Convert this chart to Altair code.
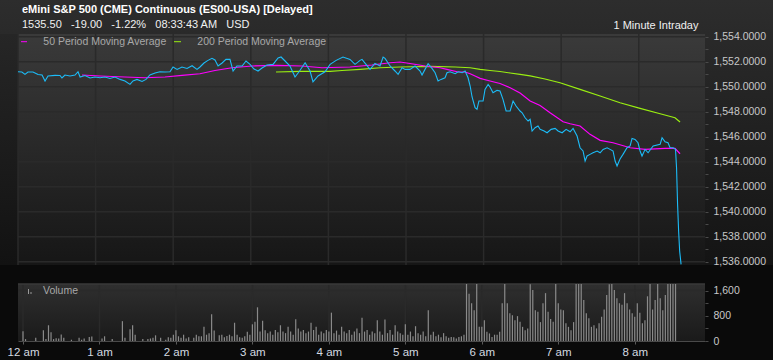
import altair as alt
import pandas as pd

FONT = "Liberation Sans"

TITLE = "eMini S&P 500 (CME) Continuous (ES00-USA) [Delayed]"
QUOTE = ["1535.50", "-19.00", "-1.22%", "08:33:43 AM", "USD"]
PERIOD = "1 Minute Intraday"
LEGEND_50 = "50 Period Moving Average"
LEGEND_200 = "200 Period Moving Average"

HOUR_TICKS = [0, 60, 120, 180, 240, 300, 360, 420, 480]
HOUR_LABELS = ["12 am", "1 am", "2 am", "3 am", "4 am", "5 am", "6 am", "7 am", "8 am"]
PRICE_TICKS = [1536, 1538, 1540, 1542, 1544, 1546, 1548, 1550, 1552, 1554]
VOL_TICKS = [0, 800, 1600]

# price (minutes after midnight, last trade)
PRICE_MIN = [0, 3, 5.4, 7.7, 11.6, 15.5, 18.6, 20.9, 23.2, 28.6, 32.5, 34, 36.3, 40.2, 44.1, 46.4, 48, 51.8, 55.7, 59.5,
             63.4, 67.3, 71.1, 75, 78.9, 82.7, 86.6, 88.9, 92, 95.9, 99, 102, 106, 109.8, 113.7, 117.5, 119.9,
             123, 126.8, 130.7, 134.6, 138.4, 140.7, 143.8, 146.9, 150, 152.3, 154.7, 157.8, 160.8, 163.9, 166.3, 169.3, 173.3, 176.3, 179.4,
             182.5, 185.6, 188.7, 192.5, 197.2, 201.1, 203.4, 206.5, 210.3, 212.7, 214.2, 217.3, 222, 225.8, 228.1, 232, 237.4, 241.3,
             246, 251.3, 256.7, 260.6, 264.5, 266, 269.1, 272.2, 276, 279.9, 282.3, 283.8, 287.7, 291.5, 293.9, 297, 299.3,
             303.1, 307, 310.9, 312.4, 314.7, 317.1, 320.1, 322.5, 324.8, 327.1, 330.2, 331.7, 334.1, 338, 340.3, 343.4, 345.7, 348,
             349.6, 351.1, 353.4, 354.9, 356.4, 359.6, 361.1, 363.5, 365, 367.3, 370.4, 372.7, 375, 377.4, 380.5, 382.8, 385.1, 388.2,
             389.8, 392.1, 394.4, 396, 397.5, 399.8, 402.1, 403.7, 406.8, 409.1, 412.2, 415.3, 417.6, 420.7, 423.8, 426.9, 429.2,
             432.3, 434.6, 436.9, 438.5, 440, 442.3, 444.6, 447.8, 450.1, 452.4, 455.5, 457.8, 460.1, 461.7, 463.2, 465.5, 467.8,
             470.9, 473.3, 474.8, 477.1, 479.4, 481, 482.5, 484.9, 487.2, 491.1, 496.5, 498, 500.3, 502.6, 504.2, 506.5, 508.4,
             509.2, 510, 510.8, 511.6, 512.7]
PRICE_VAL = [1551.20, 1551.18, 1550.99, 1551.18, 1551.18, 1550.98, 1550.94, 1550.46, 1550.86, 1550.91, 1550.90, 1550.70, 1550.94, 1550.86, 1550.94, 1551.20, 1550.78, 1550.90, 1550.70, 1550.78,
             1550.72, 1550.78, 1550.66, 1550.78, 1550.59, 1550.46, 1550.19, 1550.46, 1550.59, 1550.42, 1550.59, 1550.94, 1551.10, 1551.20, 1551.18, 1551.20, 1551.58,
             1551.39, 1551.58, 1551.46, 1551.68, 1551.39, 1551.58, 1551.90, 1552.11, 1552.27, 1552.14, 1551.66, 1551.90, 1552.19, 1552.19, 1551.26, 1551.66, 1551.66, 1552.06, 1551.79,
             1551.42, 1551.26, 1551.50, 1551.74, 1551.79, 1552.30, 1552.38, 1552.06, 1551.66, 1551.12, 1550.78, 1551.20, 1551.92, 1551.26, 1550.40, 1550.86, 1551.20, 1551.79,
             1552.11, 1552.38, 1552.19, 1551.79, 1552.11, 1552.19, 1551.79, 1551.39, 1551.87, 1551.66, 1552.38, 1552.27, 1551.66, 1551.26, 1550.99, 1551.52, 1551.39,
             1551.39, 1551.66, 1551.26, 1550.94, 1551.39, 1551.84, 1551.47, 1551.12, 1550.46, 1550.59, 1550.72, 1551.12, 1551.20, 1551.04, 1551.20, 1551.12, 1551.26, 1550.72,
             1550.06, 1549.18, 1548.32, 1548.19, 1548.86, 1548.86, 1549.79, 1550.19, 1549.98, 1549.52, 1549.71, 1549.66, 1548.99, 1548.06, 1548.06, 1548.86, 1548.46, 1548.06,
             1547.92, 1547.52, 1547.26, 1547.39, 1546.46, 1546.72, 1546.86, 1546.59, 1546.46, 1546.32, 1546.59, 1546.67, 1546.46, 1546.32, 1546.59, 1546.40, 1546.67,
             1546.06, 1545.12, 1544.86, 1544.06, 1544.46, 1544.59, 1544.72, 1544.86, 1544.72, 1544.99, 1545.12, 1544.99, 1544.86, 1544.06, 1543.66, 1544.22, 1544.59,
             1545.12, 1545.26, 1545.87, 1545.79, 1545.52, 1544.86, 1544.46, 1544.99, 1544.72, 1545.26, 1545.39, 1545.92, 1545.60, 1545.52, 1545.12, 1545.12, 1544.99,
             1543.52, 1540.59, 1538.46, 1536.86, 1535.79]

MA50_MIN = [49.5, 63.4, 82.7, 98.2, 113.7, 126.8, 140.7, 152.3, 165.5, 181, 200.3, 219.6, 235.1, 256.7, 273.7, 287.7, 295.4,
            303.1, 314.7, 326.3, 331.7, 339.5, 345.7, 349.6, 353.4, 357.3, 365, 372.7, 380.5, 388.2, 396, 403.7, 411.4,
            421.5, 426.9, 434.6, 442.3, 450.1, 460.1, 473.3, 484.9, 500.3, 508, 511.9]
MA50_VAL = [1550.94, 1550.86, 1550.78, 1550.72, 1550.78, 1550.91, 1551.04, 1551.30, 1551.52, 1551.66, 1551.71, 1551.66, 1551.52, 1551.58, 1551.74, 1551.92, 1551.98,
            1551.86, 1551.66, 1551.52, 1551.39, 1551.20, 1551.18, 1551.04, 1550.86, 1550.67, 1550.46, 1550.26, 1549.92, 1549.50, 1548.86, 1548.50, 1547.92,
            1547.20, 1547.04, 1546.86, 1546.19, 1545.71, 1545.52, 1545.12, 1544.99, 1545.07, 1545.07, 1544.64]

MA200_MIN = [199.5, 218, 241.3, 250.6, 264.5, 279.9, 295.4, 318.6, 338, 349.6, 357.3, 365, 372.7, 380.5, 388.2, 396,
             407.5, 419.1, 434.6, 450.1, 465.5, 481, 496.5, 508, 511.9]
MA200_VAL = [1551.18, 1551.23, 1551.23, 1551.30, 1551.39, 1551.52, 1551.58, 1551.63, 1551.58, 1551.52, 1551.39, 1551.30, 1551.22, 1551.10, 1550.99, 1550.87,
             1550.62, 1550.32, 1549.79, 1549.26, 1548.72, 1548.27, 1547.84, 1547.52, 1547.18]

# volume per 2-minute interval starting at midnight
VOLUME = [
    310, 60, 0, 0, 0, 100, 0, 0, 340, 60, 500, 280, 60, 90, 80, 210, 100, 0, 0, 40, 0, 0, 100, 40, 80, 0, 130, 140, 0, 0,
    0, 80, 150, 0, 0, 60, 0, 0, 0, 630, 100, 0, 370, 500, 200, 0, 0, 60, 0, 60, 80, 100, 180, 0, 100, 0, 40, 120, 100, 200,
    340, 150, 100, 200, 80, 120, 0, 100, 200, 150, 150, 450, 200, 250, 850, 330, 0, 180, 200, 120, 160, 200, 150, 580, 200, 120, 100, 150, 290, 200,
    530, 610, 1070, 300, 640, 340, 250, 300, 200, 350, 280, 500, 300, 250, 450, 300, 200, 690, 400, 300, 350, 250, 300, 580, 350, 450, 200, 300, 250, 350,
    300, 900, 250, 330, 200, 450, 300, 250, 350, 200, 300, 400, 250, 740, 300, 350, 200, 300, 250, 660, 300, 200, 680, 250, 350, 200, 500, 300, 250, 200,
    530, 200, 300, 150, 470, 250, 200, 300, 150, 980, 200, 290, 150, 200, 120, 250, 150, 100, 130, 120, 80, 130, 150, 200, 1900, 1500, 1200, 980, 1900, 450,
    450, 660, 290, 240, 130, 200, 200, 290, 1200, 1900, 1200, 880, 820, 660, 790, 610, 450, 340, 400, 1800, 1620, 980, 930, 600, 1200, 1520, 930, 700, 610, 1900,
    1200, 1000, 980, 560, 450, 340, 600, 1900, 1900, 1900, 1300, 880, 720, 450, 500, 400, 560, 770, 1000, 1460, 1800, 1900, 1620, 1360, 1200, 1150, 1520, 1200, 1000, 880,
    770, 1200, 900, 560, 660, 1420, 1900, 1000, 1300, 1900, 1360, 980, 1460, 1900, 1900, 1900, 1900,
]
VOL_MIN = [i * 2 for i in range(len(VOLUME))]

W, H1, H2 = 687, 231, 57
X_DOMAIN = [0, 531.2]
P_DOMAIN = [1535.74, 1554.22]
V_DOMAIN = [0, 1810]

price_df = pd.DataFrame({"m": PRICE_MIN, "p": PRICE_VAL})
ma50_df = pd.DataFrame({"m": MA50_MIN, "p": MA50_VAL})
ma200_df = pd.DataFrame({"m": MA200_MIN, "p": MA200_VAL})
vol_df = pd.DataFrame({"m": VOL_MIN, "v": VOLUME})
hours_df = pd.DataFrame({"m": HOUR_TICKS})
pgrid_df = pd.DataFrame({"p": PRICE_TICKS})
ONE = pd.DataFrame({"k": [0]})

xs = alt.Scale(domain=X_DOMAIN, nice=False, zero=False)
ps = alt.Scale(domain=P_DOMAIN, nice=False, zero=False)
vs = alt.Scale(domain=V_DOMAIN, nice=False)

label_arr = "[" + ",".join("'%s'" % s for s in HOUR_LABELS) + "]"

def grad(top, bottom):
    return {"gradient": "linear", "x1": 0, "y1": 0, "x2": 0, "y2": 1,
            "stops": [{"offset": 0, "color": top}, {"offset": 1, "color": bottom}]}

def rect(x, x2, y, y2, color):
    return alt.Chart(ONE).mark_rect(color=color).encode(
        x=alt.value(x), x2=alt.value(x2), y=alt.value(y), y2=alt.value(y2))

def hline(x, x2, y, color, w=1):
    return alt.Chart(ONE).mark_rule(color=color, strokeWidth=w).encode(
        x=alt.value(x), x2=alt.value(x2), y=alt.value(y))

def label(txt, x, y, size=11, color="#d0d0d0", weight="normal", align="left"):
    return alt.Chart(ONE).mark_text(text=txt, font=FONT, fontSize=size, color=color, fontWeight=weight,
                                    align=align, baseline="middle").encode(x=alt.value(x), y=alt.value(y))

p_axis = alt.Axis(orient="right", values=list(range(1536, 1555)),
                  labelExpr="datum.value % 2 == 0 ? format(datum.value, ',.4f') : ''",
                  grid=False, domain=False, ticks=True, tickSize=3, tickColor="#4a4a4a",
                  labelColor="#c8c8c8", labelFont=FONT, labelFontSize=10.5, labelPadding=5,
                  title=None, zindex=1)

NB = "\u00a0\u00a0\u00a0"

price = alt.layer(
    rect(-18, 755, -34, 326, "#0a0a0a"),
    rect(-18, 755, -34, 231, grad("#2d2d2d", "#141414")),
    rect(-18, 0, 0, 231, grad("#262626", "#121212")),
    rect(0, W, 0, H1, grad("#3a3a3a", "#161616")),
    alt.Chart(hours_df).mark_rule(color="#2a2a2a", strokeWidth=1.5).encode(
        x=alt.X("m:Q", scale=xs, axis=None)),
    alt.Chart(pgrid_df).mark_rule(color="#2a2a2a", strokeWidth=1.5).encode(
        y=alt.Y("p:Q", scale=ps, axis=p_axis)),
    alt.Chart(ma200_df).mark_line(color="#99ee11", strokeWidth=1.2, clip=True).encode(
        x=alt.X("m:Q", scale=xs, axis=None), y=alt.Y("p:Q", scale=ps, axis=p_axis)),
    alt.Chart(ma50_df).mark_line(color="#ff00ff", strokeWidth=1.2, clip=True).encode(
        x=alt.X("m:Q", scale=xs, axis=None), y=alt.Y("p:Q", scale=ps, axis=p_axis)),
    alt.Chart(price_df).mark_line(color="#1cbcf8", strokeWidth=1.1, clip=True, interpolate="linear").encode(
        x=alt.X("m:Q", scale=xs, axis=None), y=alt.Y("p:Q", scale=ps, axis=p_axis)),
    label(TITLE, 4, -24, size=11, color="#ffffff", weight="bold"),
    label(NB.join(QUOTE), 4, -9, size=11, color="#f0f0f0"),
    label(PERIOD, 680.5, -8.5, size=11, color="#f0f0f0", align="right"),
    hline(3, 9, 7.7, "#ff00ff"),
    label(LEGEND_50, 25.3, 7.7, size=10.5, color="#a8a8a8"),
    hline(156, 163, 7.7, "#99ee11"),
    label(LEGEND_200, 179.3, 7.7, size=10.5, color="#a8a8a8"),
).properties(width=W, height=H1)

x_axis = alt.Axis(values=HOUR_TICKS, labelExpr=label_arr + "[round(datum.value / 60)]",
                  grid=False, domain=True, domainColor="#4a4a4a", ticks=True, tickSize=3, tickColor="#5a5a5a",
                  labelColor="#d4dae0", labelFont=FONT, labelFontSize=11.5, labelPadding=2,
                  title=None, zindex=1)
v_axis = alt.Axis(orient="right", values=[0, 400, 800, 1200, 1600],
                  labelExpr="datum.value % 800 == 0 ? format(datum.value, ',') : ''",
                  grid=False, domain=False, ticks=True, tickSize=3, tickColor="#4a4a4a",
                  labelColor="#c8c8c8", labelFont=FONT, labelFontSize=10.5, labelPadding=5,
                  title=None, zindex=1)

volume = alt.layer(
    rect(0, W, 0, H2, grad("#2f2f2f", "#1a1a1a")),
    alt.Chart(hours_df).mark_rule(color="#2a2a2a", strokeWidth=1.5).encode(
        x=alt.X("m:Q", scale=xs, axis=x_axis)),
    alt.Chart(pd.DataFrame({"v": [1600]})).mark_rule(color="#2a2a2a", strokeWidth=1.5).encode(
        y=alt.Y("v:Q", scale=vs, axis=v_axis)),
    hline(0, W, 0, "#3a3a3a", 1.5),
    alt.Chart(vol_df).mark_bar(color="#8a8a8a", size=1.2, clip=True).encode(
        x=alt.X("m:Q", scale=xs, axis=x_axis), y=alt.Y("v:Q", scale=vs, axis=v_axis)),
    rect(10, 11, 5, 10, "#9a9a9a"),
    rect(12.5, 13.5, 8, 10, "#9a9a9a"),
    label("Volume", 25, 7, size=10.5, color="#a8a8a8"),
).properties(width=W, height=H2)

chart = alt.vconcat(price, volume, spacing=19, bounds="flush").configure(
    background="#0a0a0a", padding=0
).configure_view(stroke=None)

chart.save("out.html", embed_options={"renderer": "svg", "actions": False})
